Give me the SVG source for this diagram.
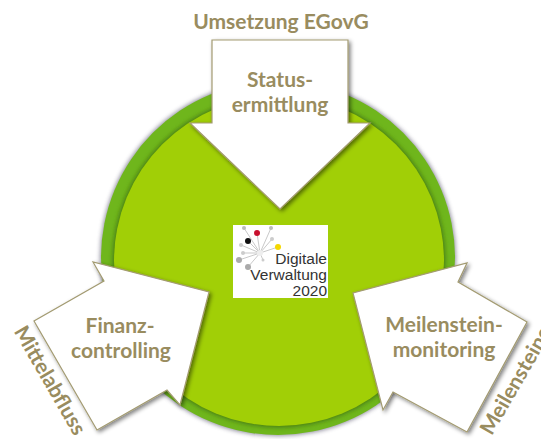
<svg xmlns="http://www.w3.org/2000/svg" width="541" height="439" viewBox="0 0 541 439">
<defs>
<filter id="sh" x="-20%" y="-20%" width="140%" height="140%"><feGaussianBlur in="SourceAlpha" stdDeviation="2"/><feOffset dx="2" dy="2"/><feComponentTransfer><feFuncA type="linear" slope="0.5"/></feComponentTransfer><feMerge><feMergeNode/><feMergeNode in="SourceGraphic"/></feMerge></filter>
<filter id="csh" x="-10%" y="-10%" width="120%" height="120%"><feGaussianBlur stdDeviation="2.2"/></filter>
<filter id="ish" x="-10%" y="-10%" width="120%" height="120%"><feGaussianBlur stdDeviation="2"/></filter>
</defs>
<style>
.a{fill:#fff;stroke:#a39b72;stroke-width:1.2;filter:url(#sh)}
.t{font-family:Lato,"Liberation Sans",sans-serif;font-weight:700;font-size:21px;fill:#998c5f;text-anchor:middle}
.l{font-family:"Liberation Sans",sans-serif;font-size:15.5px;fill:#333;text-anchor:end}
.s{stroke:#c9c9c9;stroke-width:1;fill:none}
</style>
<rect width="541" height="439" fill="#fff"/>
<g id="disc">
<circle cx="278" cy="258" r="178" fill="#6d6a80" filter="url(#csh)" opacity=".75"/>
<circle cx="278" cy="258" r="177" fill="#6fb61c"/>
<circle cx="279" cy="261" r="166.5" fill="#4a7f14" filter="url(#ish)"/>
<circle cx="279" cy="261" r="165" fill="#a1cf06"/>
</g>
<g id="logo">
<rect x="233" y="225" width="95" height="73" fill="#fff"/>
<path class="s" d="M260 253L244 228M260 253L257 233M260 253L271 228M260 253L248 241M260 253L278 247M260 253L239 260M260 253L248 267M260 253L272 239M260 253L241 245M260 253L243 253M260 253L263 260"/>
<circle cx="244" cy="228" r="2" fill="#bbb"/><circle cx="271" cy="228" r="2" fill="#bbb"/><circle cx="272" cy="239" r="2" fill="#ccc"/><circle cx="241" cy="245" r="2" fill="#ccc"/><circle cx="243" cy="253" r="2" fill="#ccc"/><circle cx="263" cy="260" r="1.5" fill="#ccc"/>
<circle cx="257" cy="233" r="3" fill="#c8102e"/><circle cx="248" cy="241" r="3" fill="#111"/><circle cx="278" cy="247" r="3" fill="#f5d800"/>
<circle cx="239" cy="260" r="3" fill="#aaa"/><circle cx="248" cy="267" r="3" fill="#aaa"/><circle cx="260" cy="253" r="3" fill="#eee"/>
<text class="l" x="327" y="264">Digitale</text><text class="l" x="327" y="280">Verwaltung</text><text class="l" x="327" y="296">2020</text>
</g>
<g id="status">
<path class="a" d="M212 40H348V123H370L280 209L190 123H212Z"/>
<text class="t" x="280" y="87">Status-</text><text class="t" x="280" y="112">ermittlung</text>
</g>
<g id="finanz">
<path class="a" d="M93 262L104 281L34 321L97 430L167 390L180 405L209 292Z"/>
<text class="t" x="120" y="333">Finanz-</text><text class="t" x="121" y="358">controlling</text>
</g>
<g id="meilenstein">
<path class="a" d="M467 263L458 282L527 322L467 432L393 392L383 410L353 293Z"/>
<text class="t" x="444" y="332">Meilenstein-</text><text class="t" x="444" y="357">monitoring</text>
</g>
<g id="labels">
<text class="t" x="281" y="29">Umsetzung EGovG</text>
<text class="t" transform="translate(44,384) rotate(60)">Mittelabfluss</text>
<text class="t" transform="translate(522,384) rotate(-60)">Meilensteine</text>
</g>
</svg>
